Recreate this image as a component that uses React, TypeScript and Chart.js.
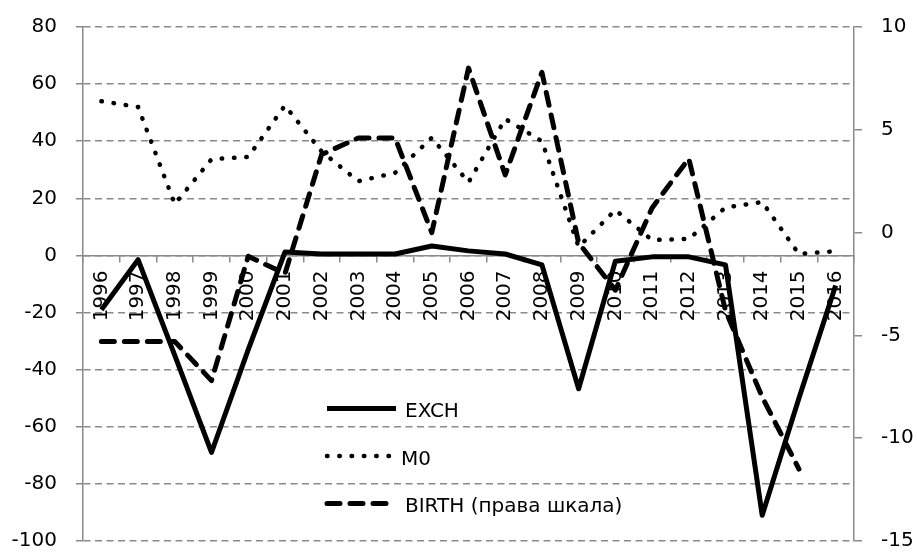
import React, { useEffect, useRef } from 'react';
import { Chart, registerables } from 'chart.js';

Chart.register(...registerables);

const years = ['1996', '1997', '1998', '1999', '2000', '2001', '2002', '2003', '2004', '2005', '2006',
  '2007', '2008', '2009', '2010', '2011', '2012', '2013', '2014', '2015', '2016'];

const exch = [-19, -1.5, -35, -69, -33, 1.2, 0.5, 0.5, 0.5, 3.3, 1.6, 0.5, -3.3, -46.7, -2, -0.5, -0.5, -3.3, -91, -50, -10.5];
const m0 = [54, 52, 18, 33.7, 34.5, 52.5, 36.4, 26, 28.9, 41.2, 25.6, 47.8, 40, 3, 15.9, 5.4, 5.8, 16.8, 18.7, 0.5, 1.5];
const birth = [-5.3, -5.3, -5.3, -7.2, -1.15, -2.0, 3.8, 4.6, 4.6, 0, 8.0, 2.8, 7.8, -0.5, -2.8, 1.2, 3.6, -3.8, -8.0, -11.5, null];

const seriesNames = ['EXCH', 'M0', 'BIRTH (права шкала)'];

const leftMin = -100, leftMax = 80, leftStep = 20;
const rightMin = -15, rightMax = 10, rightStep = 5;

const GRID = '#8a8a8a';
const FONT = "'DejaVu Sans', sans-serif";

const legendPlugin = {
  id: 'insideLegend',
  afterDatasetsDraw(chart: any) {
    const ctx = chart.ctx as CanvasRenderingContext2D;
    const rows = [408.5, 456, 503.5];
    const x0 = 327;
    chart.data.datasets.forEach((ds: any, i: number) => {
      const y = rows[i];
      ctx.save();
      ctx.strokeStyle = '#000';
      ctx.lineWidth = ds.borderWidth;
      ctx.lineCap = ds.borderCapStyle || 'butt';
      ctx.setLineDash(ds.borderDash || []);
      ctx.beginPath();
      ctx.moveTo(x0, y);
      ctx.lineTo(i === 1 ? 393 : 396, y);
      ctx.stroke();
      ctx.restore();
      ctx.save();
      ctx.fillStyle = '#000';
      ctx.font = `20px ${FONT}`;
      ctx.textBaseline = 'middle';
      ctx.textAlign = 'left';
      ctx.fillText(ds.label, i === 1 ? 401 : 405, y + 3.5);
      ctx.restore();
    });
  },
};

export default function App() {
  const ref = useRef<HTMLCanvasElement>(null);
  useEffect(() => {
    document.body.style.margin = '0';
    Chart.defaults.font.family = FONT;
    Chart.defaults.font.size = 20;
    Chart.defaults.color = '#000';
    const chart = new Chart(ref.current!, {
      type: 'line',
      data: {
        labels: years,
        datasets: [
          {
            label: seriesNames[0],
            data: exch,
            yAxisID: 'y',
            borderColor: '#000',
            borderWidth: 5,
            pointRadius: 0,
            tension: 0,
            borderJoinStyle: 'round',
            borderCapStyle: 'butt',
            fill: false,
          },
          {
            label: seriesNames[1],
            data: m0,
            yAxisID: 'y',
            borderColor: '#000',
            borderWidth: 4.5,
            borderDash: [0.5, 11.8],
            borderCapStyle: 'round',
            pointRadius: 0,
            tension: 0,
            fill: false,
          },
          {
            label: seriesNames[2],
            data: birth,
            yAxisID: 'y1',
            borderColor: '#000',
            borderWidth: 5,
            borderDash: [13, 10],
            borderCapStyle: 'round',
            borderJoinStyle: 'round',
            pointRadius: 0,
            tension: 0,
            fill: false,
          },
        ],
      },
      options: {
        responsive: false,
        animation: false,
        events: [],
        layout: { padding: { top: 27, bottom: 11, left: 0, right: 0 } },
        plugins: { legend: { display: false }, tooltip: { enabled: false } },
        scales: {
          x: {
            type: 'category',
            offset: true,
            position: { y: 0 } as any,
            grid: {
              drawOnChartArea: false,
              offset: true,
              tickLength: 6,
              color: GRID,
              lineWidth: 1.5,
            },
            border: { display: true, color: GRID, width: 1.5 },
            ticks: {
              minRotation: 90,
              maxRotation: 90,
              autoSkip: false,
              padding: 9,
              font: { size: 20, family: FONT },
              color: '#000',
            },
            afterFit: (s: any) => { s.paddingLeft = 0; s.paddingRight = 0; },
          },
          y: {
            position: 'left',
            min: leftMin,
            max: leftMax,
            ticks: { stepSize: leftStep, padding: 19, font: { size: 20, family: FONT }, color: '#000' },
            grid: { color: GRID, lineWidth: 1.5, tickLength: 7, drawTicks: true },
            border: { display: true, color: GRID, width: 1.5, dash: [7, 4.5] },
            afterFit: (s: any) => { s.width = 83; s.paddingTop = 0; s.paddingBottom = 0; },
          },
          y1: {
            position: 'right',
            min: rightMin,
            max: rightMax,
            ticks: { stepSize: rightStep, padding: 19, font: { size: 20, family: FONT }, color: '#000' },
            grid: { drawOnChartArea: false, color: GRID, lineWidth: 1.5, tickLength: 8 },
            border: { display: true, color: GRID, width: 1.5 },
            afterFit: (s: any) => { s.width = 63; s.paddingTop = 0; s.paddingBottom = 0; },
          },
        },
      },
      plugins: [legendPlugin],
    } as any);
    return () => chart.destroy();
  }, []);
  return (
    <div style={{ width: 917, height: 552 }}>
      <canvas ref={ref} width={917} height={552} style={{ display: 'block' }} />
    </div>
  );
}
